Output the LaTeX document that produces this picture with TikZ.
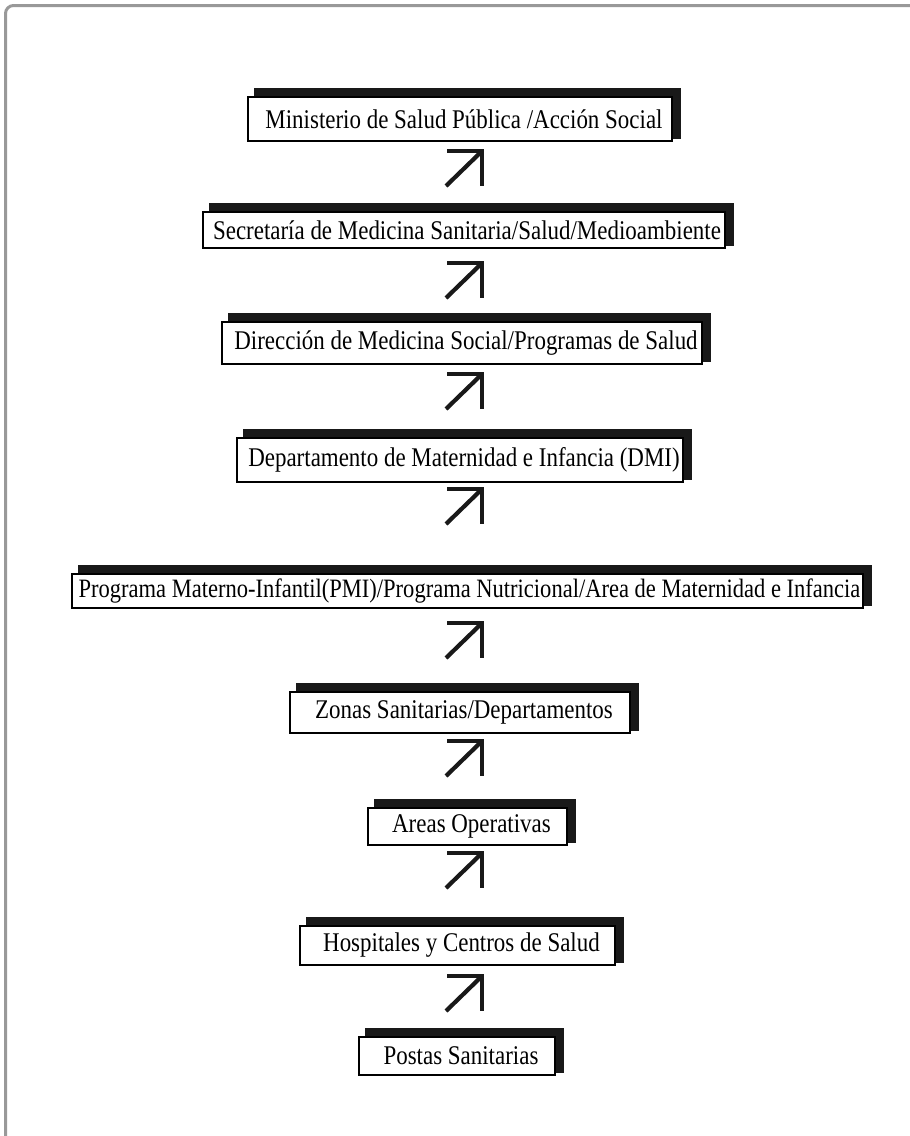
\documentclass[tikz,border=0pt]{standalone}
\usepackage{fontspec}
\newfontfamily\boxfont[FakeStretch=0.85]{Liberation Serif}
\usetikzlibrary{backgrounds}
\begin{document}
\begin{tikzpicture}[x=1pt,y=-1pt,
  lvl/.style={draw=black, line width=1.3pt, fill=white, inner sep=0pt,
    font=\boxfont\fontsize{27}{30}\selectfont, text=black},
  shade/.style={fill=black!90},
  arr/.style={line width=4.2pt, line cap=butt, line join=miter, black!90},
  uparrow/.pic={
    \draw[arr] (-19,18) -- (15,-15);
    \draw[arr] (-18,-17) -- (17,-17) -- (17,18);
  }]
\useasboundingbox (0,0) rectangle (910,1136);
\draw[black!40, line width=3pt, rounded corners=8pt] (5.5,1140) -- (5.5,5.5) -- (915,5.5);

\node[lvl, minimum width=424pt, minimum height=44pt] (b1) at (460,119) {\hspace*{8pt}Ministerio de Salud Pública /Acción Social};
\node[lvl, minimum width=522pt, minimum height=36pt] (b2) at (464,230) {\hspace*{6pt}Secretaría de Medicina Sanitaria/Salud/Medioambiente};
\node[lvl, minimum width=480pt, minimum height=42pt] (b3) at (462,343) {\hspace*{8pt}Dirección de Medicina Social/Programas de Salud};
\node[lvl, minimum width=446pt, minimum height=44pt] (b4) at (460,460) {\hspace*{8pt}Departamento de Maternidad e Infancia (DMI)};
\node[lvl, minimum width=791pt, minimum height=34pt, font=\boxfont\fontsize{26.5}{30}\selectfont] (b5) at (467.5,591) {\hspace*{4pt}Programa Materno-Infantil(PMI)/Programa Nutricional/Area de Maternidad e Infancia};
\node[lvl, minimum width=340pt, minimum height=41pt] (b6) at (460,712.5) {\hspace*{8pt}Zonas Sanitarias/Departamentos};
\node[lvl, minimum width=199pt, minimum height=37pt] (b7) at (467.5,826.5) {\hspace*{8pt}Areas Operativas};
\node[lvl, minimum width=315pt, minimum height=39pt] (b8) at (457.5,945.5) {\hspace*{8pt}Hospitales y Centros de Salud};
\node[lvl, minimum width=196pt, minimum height=38pt] (b9) at (457,1056) {\hspace*{8pt}Postas Sanitarias};

\begin{scope}[on background layer]
  \foreach \n in {b1,b2,b3,b4,b5,b6,b7,b8,b9}
    \fill[shade] ([xshift=7pt,yshift=8pt]\n.north west) rectangle ([xshift=8pt,yshift=3pt]\n.south east);
\end{scope}

\foreach \y/\i in {168/1,280/2,391/3,506/4,640/5,758/6,870/7,993/8}
  \pic (a\i) at (465,\y) {uparrow};
\end{tikzpicture}
\end{document}
